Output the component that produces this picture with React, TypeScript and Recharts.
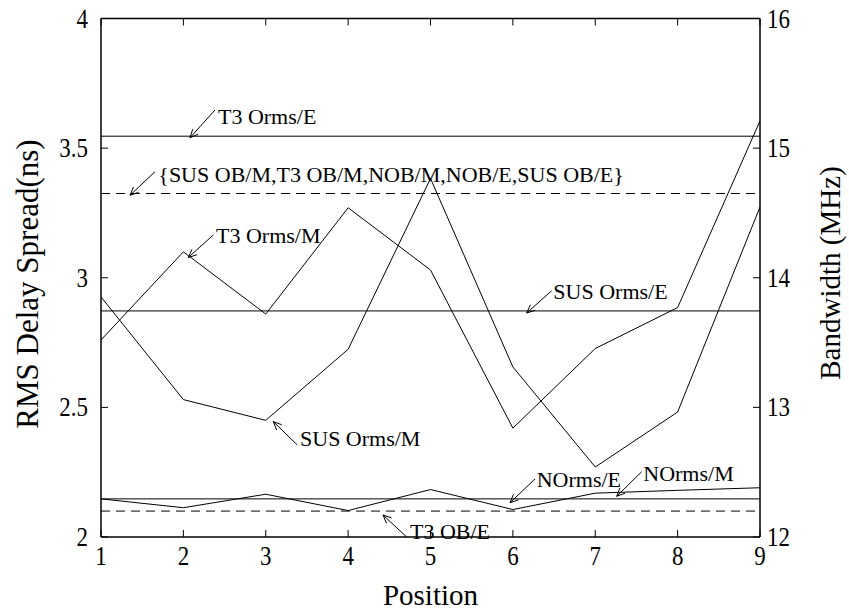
import React from 'react';
import { LineChart, Line, XAxis, YAxis, ReferenceLine, ReferenceDot } from 'recharts';

// ---- data ----
const positions = [1, 2, 3, 4, 5, 6, 7, 8, 9];
const t3OrmsM = [2.76, 3.1, 2.86, 3.27, 3.03, 2.42, 2.727, 2.885, 3.605];
const susOrmsM = [2.926, 2.53, 2.45, 2.724, 3.383, 2.656, 2.27, 2.482, 3.273];
const nOrmsM = [2.147, 2.113, 2.165, 2.102, 2.183, 2.106, 2.169, 2.18, 2.19];

const t3OrmsE = 3.546;
const obGroup = 3.325;
const susOrmsE = 2.872;
const nOrmsE = 2.147;
const t3ObE = 2.1;

const xTicks = [1, 2, 3, 4, 5, 6, 7, 8, 9];
const leftTicks = [2, 2.5, 3, 3.5, 4];
const rightTicks = [12, 13, 14, 15, 16];

const annotations = [
  { text: 'T3 Orms/E', tail: [2.384, 3.647], tip: [2.08, 3.54], at: [2.42, 3.593] },
  { text: '{SUS OB/M,T3 OB/M,NOB/M,NOB/E,SUS OB/E}', tail: [1.656, 3.409], tip: [1.352, 3.318], at: [1.696, 3.37] },
  { text: 'T3 Orms/M', tail: [2.363, 3.165], tip: [2.06, 3.078], at: [2.396, 3.133] },
  { text: 'SUS Orms/E', tail: [6.471, 2.95], tip: [6.168, 2.864], at: [6.491, 2.917] },
  { text: 'SUS Orms/M', tail: [3.383, 2.355], tip: [3.092, 2.445], at: [3.416, 2.352] },
  { text: 'NOrms/E', tail: [6.269, 2.224], tip: [5.965, 2.132], at: [6.289, 2.192] },
  { text: 'NOrms/M', tail: [7.564, 2.252], tip: [7.26, 2.157], at: [7.583, 2.216] },
  { text: 'T3 OB/E', tail: [4.711, 2.0], tip: [4.423, 2.085], at: [4.751, 1.994] },
];

const data = positions.map((p, i) => ({ pos: p, t3m: t3OrmsM[i], susm: susOrmsM[i], nm: nOrmsM[i] }));

const FONT = "'Liberation Serif', 'DejaVu Serif', serif";
const W = 849;
const H = 612;
const TL = 7;

const txtStyle = (size: number) => ({ fontFamily: FONT, fontSize: size, fill: '#000' });

const BottomTick = (props: any) => {
  const { x, y, payload } = props;
  return (
    <g>
      <line x1={x} x2={x} y1={y} y2={y - TL} stroke="#000" strokeWidth={1} />
      <text transform={`translate(${x},${y + 28}) scale(0.85,1)`} textAnchor="middle" style={txtStyle(27)}>
        {payload.value}
      </text>
    </g>
  );
};
const TopTick = (props: any) => {
  const { x, y } = props;
  return <line x1={x} x2={x} y1={y} y2={y + TL} stroke="#000" strokeWidth={1} />;
};
const LeftTick = (props: any) => {
  const { x, y, payload } = props;
  return (
    <g>
      <line x1={x} x2={x + TL} y1={y} y2={y} stroke="#000" strokeWidth={1} />
      <text transform={`translate(${x - 13},${y + 9}) scale(0.85,1)`} textAnchor="end" style={txtStyle(27)}>
        {payload.value}
      </text>
    </g>
  );
};
const RightTick = (props: any) => {
  const { x, y, payload } = props;
  return (
    <g>
      <line x1={x} x2={x - TL} y1={y} y2={y} stroke="#000" strokeWidth={1} />
      <text transform={`translate(${x + 7},${y + 9}) scale(0.85,1)`} textAnchor="start" style={txtStyle(27)}>
        {payload.value}
      </text>
    </g>
  );
};

const Arrow = (props: any) => {
  const { x1, y1, x2, y2 } = props;
  const ang = Math.atan2(y2 - y1, x2 - x1);
  const L = 9;
  const A = 0.42;
  const ax = x2 - L * Math.cos(ang - A);
  const ay = y2 - L * Math.sin(ang - A);
  const bx = x2 - L * Math.cos(ang + A);
  const by = y2 - L * Math.sin(ang + A);
  return (
    <g>
      <line x1={x1} y1={y1} x2={x2} y2={y2} stroke="#000" strokeWidth={1} />
      <path d={`M${ax},${ay}L${x2},${y2}L${bx},${by}`} fill="none" stroke="#000" strokeWidth={1} />
    </g>
  );
};

const axisLine = { stroke: '#000', strokeWidth: 1.5 };
const noValue = () => null;

export default function App() {
  return (
    <div style={{ position: 'absolute', left: 0, top: 0, width: W, height: H, background: '#fff', fontFamily: FONT }}>
      <LineChart width={W} height={H} data={data} margin={{ top: 8.5, right: 29, bottom: 35, left: 41 }}>
        <XAxis
          xAxisId="bottom"
          dataKey="pos"
          type="number"
          domain={[1, 9]}
          ticks={xTicks}
          interval={0}
          height={40}
          tickSize={0}
          tickMargin={0}
          tickLine={false}
          axisLine={axisLine}
          tick={<BottomTick />}
          label={{
            content: () => (
              <text x={430.5} y={605} textAnchor="middle" style={txtStyle(29)}>
                Position
              </text>
            ),
          }}
        />
        <XAxis
          xAxisId="top"
          orientation="top"
          dataKey="pos"
          type="number"
          domain={[1, 9]}
          ticks={xTicks}
          interval={0}
          height={10}
          tickSize={0}
          tickMargin={0}
          tickLine={false}
          axisLine={axisLine}
          tick={<TopTick />}
        />
        <YAxis
          yAxisId="left"
          type="number"
          domain={[2, 4]}
          ticks={leftTicks}
          interval={0}
          width={60}
          tickSize={0}
          tickMargin={0}
          tickLine={false}
          axisLine={axisLine}
          tick={<LeftTick />}
          label={{
            content: () => (
              <text transform="translate(38,284) rotate(-90)" textAnchor="middle" style={txtStyle(31)}>
                RMS Delay Spread(ns)
              </text>
            ),
          }}
        />
        <YAxis
          yAxisId="right"
          orientation="right"
          type="number"
          domain={[12, 16]}
          allowDataOverflow
          ticks={rightTicks}
          interval={0}
          width={60}
          tickSize={0}
          tickMargin={0}
          tickLine={false}
          axisLine={axisLine}
          tick={<RightTick />}
          label={{
            content: () => (
              <text transform="translate(840,273) rotate(-90)" textAnchor="middle" style={txtStyle(29)}>
                Bandwidth (MHz)
              </text>
            ),
          }}
        />

        <ReferenceLine xAxisId="bottom" yAxisId="left" y={t3OrmsE} stroke="#000" strokeWidth={1} />
        <ReferenceLine xAxisId="bottom" yAxisId="left" y={obGroup} stroke="#000" strokeWidth={1} strokeDasharray="9 6" />
        <ReferenceLine xAxisId="bottom" yAxisId="left" y={susOrmsE} stroke="#000" strokeWidth={1} />
        <ReferenceLine xAxisId="bottom" yAxisId="left" y={nOrmsE} stroke="#000" strokeWidth={1} />
        <ReferenceLine xAxisId="bottom" yAxisId="left" y={t3ObE} stroke="#000" strokeWidth={1} strokeDasharray="9 6" />

        <Line xAxisId="bottom" yAxisId="left" type="linear" dataKey="t3m" stroke="#000" strokeWidth={1} dot={false} isAnimationActive={false} />
        <Line xAxisId="bottom" yAxisId="left" type="linear" dataKey="susm" stroke="#000" strokeWidth={1} dot={false} isAnimationActive={false} />
        <Line xAxisId="bottom" yAxisId="left" type="linear" dataKey="nm" stroke="#000" strokeWidth={1} dot={false} isAnimationActive={false} />
        {/* empty series binding the mirrored top / right axes */}
        <Line xAxisId="top" yAxisId="right" type="linear" dataKey={noValue} stroke="none" dot={false} legendType="none" isAnimationActive={false} />

        {annotations.map((a, i) => (
          <ReferenceLine
            key={`arr-${i}`}
            xAxisId="bottom"
            yAxisId="left"
            ifOverflow="visible"
            segment={[
              { x: a.tail[0], y: a.tail[1] },
              { x: a.tip[0], y: a.tip[1] },
            ]}
            shape={(p: any) => <Arrow {...p} />}
          />
        ))}
        {annotations.map((a, i) => (
          <ReferenceDot
            key={`txt-${i}`}
            xAxisId="bottom"
            yAxisId="left"
            ifOverflow="visible"
            x={a.at[0]}
            y={a.at[1]}
            r={0}
            shape={(p: any) => (
              <text x={p.cx} y={p.cy} textAnchor="start" style={txtStyle(22)}>
                {a.text}
              </text>
            )}
          />
        ))}
      </LineChart>
    </div>
  );
}
